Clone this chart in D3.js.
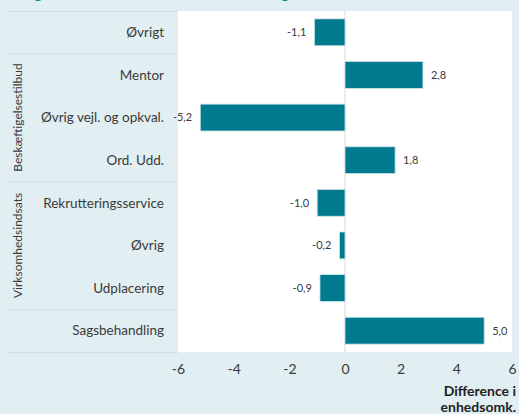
<!DOCTYPE html>
<html>
<head>
<meta charset="utf-8">
<script src="https://cdn.jsdelivr.net/npm/d3@7"></script>
<style>
  body { margin: 0; background: #e1eef2; }
  svg { display: block; font-family: Lato, 'Open Sans', sans-serif; }
</style>
</head>
<body>
<div class="chart"></div>
<script>
const w = 519;
const h = 414;

// data
const categories = ['Øvrigt', 'Mentor', 'Øvrig vejl. og opkval.', 'Ord. Udd.',
  'Rekrutteringsservice', 'Øvrig', 'Udplacering', 'Sagsbehandling'];
const values = [-1.1, 2.8, -5.2, 1.8, -1.0, -0.2, -0.9, 5.0];
const groupNames = ['Beskæftigelsestilbud', 'Virksomhedsindsats'];
const groupFirst = ['Mentor', 'Rekrutteringsservice'];
const groupLast = ['Ord. Udd.', 'Udplacering'];
const xTicks = [-6, -4, -2, 0, 2, 4, 6];
const axisTitle = ['Difference i', 'enhedsomk.'];

const plot = { left: 178, right: 512, top: 11, bottom: 352 };
const barColor = '#007a8e';
const textColor = '#3a3a3a';

const svg = d3.select('.chart')
  .append('svg')
  .attr('width', w)
  .attr('height', h);

// bits of the cut-off title row
svg.append('circle').attr('cx', 38).attr('cy', -5).attr('r', 6).attr('fill', barColor);
svg.append('circle').attr('cx', 285).attr('cy', -5).attr('r', 6).attr('fill', barColor);

const xScale = d3.scaleLinear()
  .domain([-6, 6])
  .range([plot.left, plot.right]);

const yScale = d3.scaleBand()
  .domain(categories)
  .range([plot.top, plot.bottom])
  .paddingInner(0.37)
  .paddingOuter(0.185);

const fmt = (d) => d3.format('.1f')(d).replace('.', ',').replace('−', '-');

// white plot area
svg.append('rect')
  .attr('x', plot.left)
  .attr('y', plot.top)
  .attr('width', plot.right - plot.left)
  .attr('height', plot.bottom - plot.top)
  .attr('fill', '#fff');

// separator lines in the label column
const step = yScale.step();
const rowTop = (c) => plot.top + categories.indexOf(c) * step;
const sepYs = [plot.top, rowTop('Mentor'), rowTop('Rekrutteringsservice'),
  rowTop('Sagsbehandling'), plot.bottom];
svg.selectAll('line.sep')
  .data(sepYs)
  .enter()
  .append('line')
  .attr('class', 'sep')
  .attr('x1', 8)
  .attr('x2', plot.left)
  .attr('y1', (d) => d + 0.5)
  .attr('y2', (d) => d + 0.5)
  .attr('stroke', '#cfdfe4')
  .attr('stroke-width', 1.2);

// zero line
svg.append('line')
  .attr('x1', xScale(0))
  .attr('x2', xScale(0))
  .attr('y1', plot.top)
  .attr('y2', plot.bottom)
  .attr('stroke', '#d9d9d9')
  .attr('stroke-width', 1);

// bars
svg.selectAll('rect.bar')
  .data(values)
  .enter()
  .append('rect')
  .attr('class', 'bar')
  .attr('x', (d) => xScale(Math.min(0, d)))
  .attr('y', (d, i) => yScale(categories[i]))
  .attr('width', (d) => Math.abs(xScale(d) - xScale(0)))
  .attr('height', yScale.bandwidth())
  .attr('fill', barColor)
  .attr('stroke', '#cfe3e8')
  .attr('stroke-width', 0.8);

// value labels
svg.selectAll('text.val')
  .data(values)
  .enter()
  .append('text')
  .attr('class', 'val')
  .attr('x', (d) => d < 0 ? xScale(d) - 8 : xScale(d) + 8)
  .attr('y', (d, i) => yScale(categories[i]) + yScale.bandwidth() / 2)
  .attr('dy', '0.35em')
  .attr('text-anchor', (d) => d < 0 ? 'end' : 'start')
  .attr('font-size', 11)
  .attr('fill', textColor)
  .text(fmt);

// category labels
svg.selectAll('text.cat')
  .data(categories)
  .enter()
  .append('text')
  .attr('class', 'cat')
  .attr('x', 164)
  .attr('y', (d) => yScale(d) + yScale.bandwidth() / 2)
  .attr('dy', '0.35em')
  .attr('text-anchor', 'end')
  .attr('font-size', 13.5)
  .attr('fill', textColor)
  .text((d) => d);

// group labels, rotated
svg.selectAll('text.grp')
  .data(groupNames)
  .enter()
  .append('text')
  .attr('class', 'grp')
  .attr('transform', (d, i) => {
    const y0 = yScale(groupFirst[i]);
    const y1 = yScale(groupLast[i]) + yScale.bandwidth();
    return `translate(18,${(y0 + y1) / 2}) rotate(-90)`;
  })
  .attr('dy', '0.35em')
  .attr('text-anchor', 'middle')
  .attr('font-size', 12)
  .attr('fill', textColor)
  .text((d) => d);

// x axis
const xAxis = d3.axisBottom(xScale)
  .tickValues(xTicks)
  .tickSize(0)
  .tickPadding(12)
  .tickFormat((d) => d3.format('d')(d).replace('−', '-'));
const gx = svg.append('g')
  .attr('transform', `translate(0,${plot.bottom})`)
  .call(xAxis);
gx.select('.domain').remove();
gx.selectAll('text')
  .attr('font-size', 14)
  .attr('font-family', 'Lato, sans-serif')
  .attr('fill', textColor);

// axis title
svg.selectAll('text.title')
  .data(axisTitle)
  .enter()
  .append('text')
  .attr('class', 'title')
  .attr('x', 516)
  .attr('y', (d, i) => 396 + i * 16)
  .attr('text-anchor', 'end')
  .attr('font-size', 14)
  .attr('font-weight', 'bold')
  .attr('fill', '#222')
  .text((d) => d);
</script>
</body>
</html>
